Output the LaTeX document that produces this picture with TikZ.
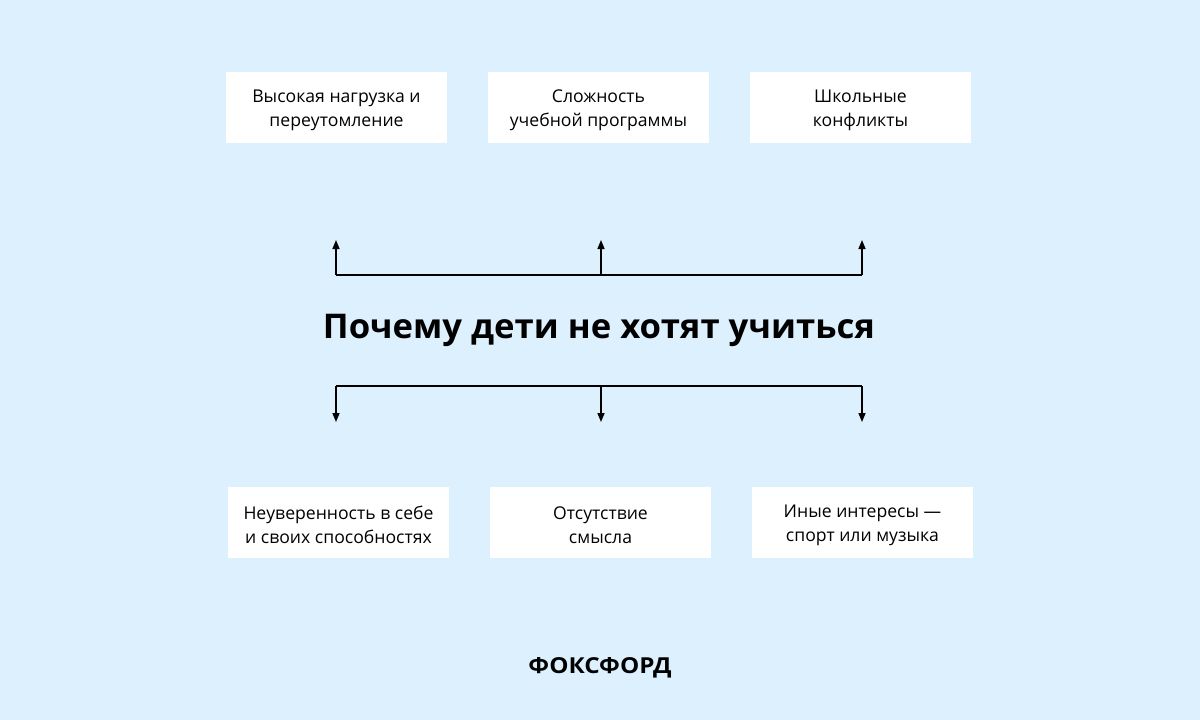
\documentclass[tikz,border=0pt]{standalone}
\usepackage{fontspec}
\setmainfont{Open Sans}
\usetikzlibrary{arrows.meta}
\definecolor{bg}{HTML}{DDF0FE}
\begin{document}
\begin{tikzpicture}[x=1pt,y=-1pt,
  box/.style={fill=white,minimum width=221pt,minimum height=71pt,inner sep=0pt},
  txt/.style={align=center,font=\fontsize{17.6}{24}\selectfont,yshift=-3pt},
  conn/.style={line width=1.5pt},
  arr/.style={conn,-{Triangle[length=9pt,width=7pt]}}]
\fill[bg] (0,0) rectangle (1200,720);
\useasboundingbox (0,0) rectangle (1200,720);
\node[box] (t1) at (336.5,107.5) {};
\node[box] (t2) at (598.5,107.5) {};
\node[box] (t3) at (860.5,107.5) {};
\node[box] (b1) at (338.5,522) {};
\node[box] (b2) at (600.5,522) {};
\node[box] (b3) at (862.5,522) {};
\node[txt] (t1t) at (t1) {Высокая нагрузка и\\переутомление};
\node[txt] (t2t) at (t2) {Сложность\\учебной программы};
\node[txt] (t3t) at (t3) {Школьные\\конфликты};
\node[txt] (b1t) at (b1) {Неуверенность в себе\\и своих способностях};
\node[txt] (b2t) at (b2) {Отсутствие\\смысла};
\node[txt] (b3t) at (b3) {Иные интересы —\\спорт или музыка};
\node[font=\fontsize{34}{40}\bfseries\selectfont,xscale=1.02] (title) at (599,330) {Почему дети не хотят учиться};
\node[font=\fontsize{22}{26}\bfseries\selectfont,xscale=1.1] (logo) at (600,668) {ФОКСФОРД};
\coordinate (ul) at (336,275); \coordinate (um) at (601,275); \coordinate (ur) at (862,275);
\coordinate (ual) at (336,240); \coordinate (uam) at (601,240); \coordinate (uar) at (862,240);
\coordinate (dl) at (336,386); \coordinate (dm) at (601,386); \coordinate (dr) at (862,386);
\coordinate (dal) at (336,422); \coordinate (dam) at (601,422); \coordinate (dar) at (862,422);
\draw[conn] (ul) -- (ur); \draw[arr] (ul) -- (ual); \draw[arr] (um) -- (uam); \draw[arr] (ur) -- (uar);
\draw[conn] (dl) -- (dr); \draw[arr] (dl) -- (dal); \draw[arr] (dm) -- (dam); \draw[arr] (dr) -- (dar);
\end{tikzpicture}
\end{document}
